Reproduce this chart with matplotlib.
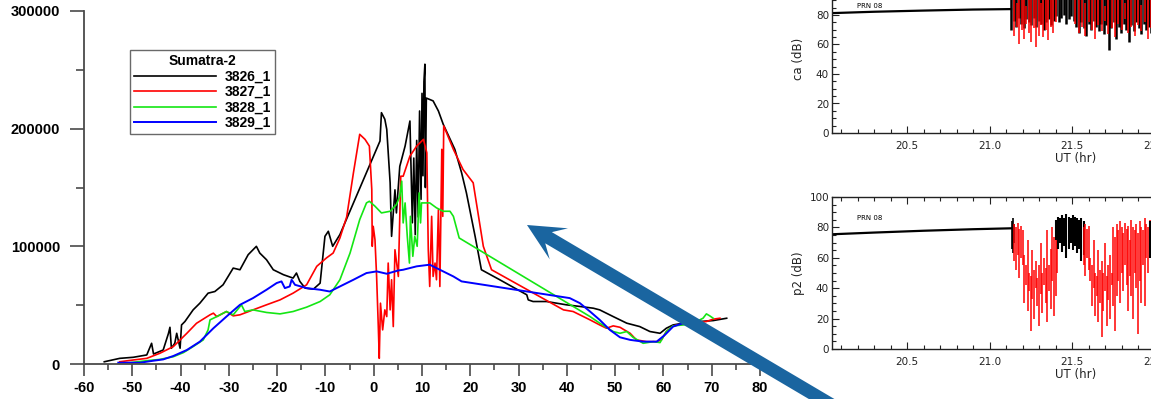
import numpy as np
import matplotlib
matplotlib.use("Agg")
import matplotlib.pyplot as plt
from matplotlib.patches import Polygon
from matplotlib.ticker import MultipleLocator, FormatStrFormatter

plt.rcParams["axes.unicode_minus"] = False

# ---- main chart: Sumatra-2 passes (x: distance, y: counts) ----
BLACK_X = [-55.8, -52.6, -49.8, -47.0, -46.0, -45.6, -43.6, -42.5, -42.2, -41.9,
           -41.2, -40.8, -40.1, -39.8, -39.1, -37.4, -36.0, -34.3, -32.9, -31.2,
           -29.1, -27.7, -26.0, -24.3, -23.6, -22.2, -20.8, -18.7, -16.7, -16.0,
           -15.3, -14.2, -12.5, -11.1, -10.1, -9.4, -8.5, -7.0, 1.3, 1.6,
           2.3, 2.7, 3.4, 3.7, 4.4, 4.7, 5.4, 6.5, 7.5, 8.0,
           8.3, 8.6, 8.9, 9.2, 9.5, 9.8, 10.0, 10.2, 10.4, 10.6,
           10.7, 10.9, 12.3, 13.4, 14.4, 16.8, 18.2, 19.2, 21.0, 22.3,
           26.1, 31.7, 32.0, 33.0, 35.8, 39.9, 42.7, 45.5, 46.8, 49.6,
           52.4, 55.1, 57.2, 59.3, 60.6, 62.0, 64.8, 67.5, 70.3, 73.1]
BLACK_Y = [1900, 4800, 5700, 7700, 17600, 8500, 11900, 26100, 31200, 13400,
           17600, 26100, 13400, 33200, 36100, 46000, 51700, 60200, 61600, 67300,
           81500, 80100, 92900, 100000, 94300, 88600, 80100, 75900, 73000, 77300,
           70200, 64500, 63600, 68700, 108500, 112800, 100000, 110000, 189500, 213600,
           208000, 199400, 154000, 108500, 148000, 128400, 168000, 185200, 206500, 120000,
           175000, 110000, 190000, 125000, 215000, 140000, 230000, 160000, 240000, 254800,
           150000, 226000, 223600, 215000, 203700, 182400, 162500, 145400, 108500, 80100,
           71600, 58800, 54500, 53100, 53100, 50300, 48900, 47400, 46000, 40300,
           34700, 31800, 27600, 26100, 30400, 33200, 35200, 36100, 36900, 38900]

RED_X = [-52.6, -49.8, -47.0, -44.3, -41.5, -38.7, -36.7, -33.9, -33.2, -32.5,
         -30.5, -29.1, -27.7, -25.0, -22.2, -19.4, -16.7, -13.9, -11.8, -9.8,
         -8.4, -7.0, -5.6, -4.2, -2.9, -1.8, -0.9, -0.4, -0.3, -0.1,
         0.26, 0.6, 0.95, 1.15, 1.4, 1.85, 2.3, 2.7, 3.0, 3.4,
         3.7, 4.05, 4.4, 5.1, 5.6, 6.1, 7.5, 8.9, 10.3, 11.0,
         11.3, 11.6, 12.0, 12.3, 12.7, 13.0, 13.4, 13.7, 14.1, 14.3,
         14.5, 16.5, 18.5, 20.6, 22.7, 24.4, 39.3, 41.3, 44.8, 46.8,
         48.2, 49.6, 51.0, 53.1, 54.4, 56.5, 58.6, 59.6, 60.6, 62.0,
         64.8, 66.9, 68.9, 70.3, 71.7]
RED_Y = [1900, 3400, 4800, 9100, 14800, 26100, 34600, 41800, 43200, 40300,
         44600, 40900, 41800, 46000, 50300, 54500, 60200, 67300, 83000, 90100,
         94300, 107100, 125000, 162500, 195200, 190900, 185200, 148300, 100000, 117000,
         105700, 74400, 31800, 4800, 51700, 29000, 46000, 40300, 85800, 46000,
         71600, 31800, 97100, 74400, 159600, 159600, 176700, 185200, 190900, 179500,
         97100, 65900, 125500, 74400, 85800, 71600, 131200, 65900, 182400, 125500,
         202300, 182400, 165300, 154000, 100000, 80100, 46000, 44600, 37500, 33200,
         30400, 32400, 31200, 26100, 20500, 19000, 19000, 20500, 27600, 32400,
         34700, 35200, 36100, 38100, 38900]

GREEN_X = [-50.5, -47.0, -44.3, -41.5, -39.4, -37.4, -35.3, -34.3, -33.9, -32.5,
           -30.5, -29.1, -27.4, -26.7, -25.0, -22.2, -19.4, -16.7, -13.9, -11.1,
           -9.1, -7.0, -4.9, -2.9, -1.5, -0.9, 0.26, 1.6, 3.4, 4.7,
           5.4, 5.8, 6.1, 6.5, 6.95, 7.4, 7.6, 8.1, 8.5, 9.0,
           9.4, 9.7, 9.9, 11.6, 13.0, 14.4, 15.8, 16.5, 17.7, 44.8,
           46.8, 49.6, 51.0, 52.4, 53.7, 55.8, 57.9, 59.3, 60.6, 62.0,
           64.1, 66.2, 68.2, 68.9, 69.6, 70.3]
GREEN_Y = [1100, 2800, 3900, 6200, 9700, 14800, 20500, 29000, 37500, 40300,
           44600, 41800, 50300, 44600, 46000, 43800, 42600, 44600, 48300, 53100,
           58800, 71600, 94300, 122700, 136900, 138300, 134100, 128400, 129800, 135500,
           142600, 155400, 119900, 136900, 108500, 85800, 125500, 91500, 108500, 100000,
           145400, 119900, 136900, 136900, 132700, 129800, 129800, 125500, 107100, 40300,
           34700, 27600, 26100, 27600, 22700, 17600, 19000, 18200, 27600, 32400,
           33200, 34700, 38900, 42600, 40900, 38900]

BLUE_X = [-52.9, -48.4, -45.6, -43.6, -41.5, -38.7, -36.0, -33.2, -30.5, -27.7,
          -25.0, -22.2, -20.1, -19.1, -18.4, -17.4, -17.0, -16.3, -13.9, -11.1,
          -9.1, -7.0, -4.2, -1.5, 0.6, 2.7, 5.1, 6.1, 8.9, 11.6,
          13.7, 16.5, 18.2, 40.6, 42.7, 44.8, 46.8, 48.9, 51.0, 53.1,
          55.8, 58.6, 60.3, 62.0, 64.1, 66.2]
BLUE_Y = [1100, 1100, 2800, 3900, 6800, 11900, 19000, 30400, 40300, 50300,
          56000, 63100, 68800, 70200, 64500, 65900, 71600, 67300, 64500, 63100,
          61600, 65900, 71600, 77300, 78700, 76700, 79500, 80100, 83000, 84400,
          80100, 74400, 70200, 56000, 51700, 44600, 37500, 29000, 22700, 20500,
          19000, 19000, 24700, 31800, 34700, 35500]

SERIES_NAMES = ["3826_1", "3827_1", "3828_1", "3829_1"]
LEGEND_TITLE = "Sumatra-2"

# ---- right panels: PRN 08 signal (UT hours, dB) ----
CA_QUIET_T = [20.05, 20.3, 20.6, 20.9, 21.13]
CA_QUIET_V = [81.3, 82.2, 83.0, 83.7, 84.0]
CA_BAND_T = (21.13, 21.98)
CA_BAND_LO = [70, 76, 72, 78, 74, 71, 77, 75, 73, 78, 72, 76, 74, 70, 75, 77, 73, 76, 79,
              75, 78, 80, 74, 77, 79, 76, 72, 68, 75, 71, 66, 74, 70, 76, 72, 69, 74, 67,
              73, 56, 71, 75, 64, 72, 68, 74, 70, 62, 73, 69, 75, 71, 67, 74, 70, 72, 68]
CA_BAND_TOP = 100
CA_RED1_T = (21.15, 21.40)
CA_RED1_LO = [66, 72, 60, 70, 64, 74, 68, 62, 71, 58, 66, 73, 65, 70, 63, 72, 68, 75]
CA_RED1_HI = [95, 88, 100, 92, 98, 86, 100, 94, 90, 100, 96, 88, 100, 92, 97, 90, 100, 94]
CA_RED2_T = (21.52, 21.98)
CA_RED2_LO = [74, 68, 72, 66, 75, 70, 64, 73, 69, 76, 67, 71, 65, 74, 70, 77, 68, 72,
              66, 73, 69, 75, 64, 71]
CA_RED2_HI = [100, 92, 98, 88, 100, 95, 90, 100, 94, 86, 100, 92, 97, 90, 100, 88, 96,
              100, 91, 98, 87, 100, 94, 96]

P2_QUIET_T = [20.05, 20.3, 20.6, 20.9, 21.13]
P2_QUIET_V = [75.5, 76.6, 77.8, 78.8, 79.4]
P2_JUMP_T = [21.135, 21.14, 21.145]
P2_JUMP_LO = [66, 63, 70]
P2_JUMP_HI = [84, 86, 82]
P2_RED1_T = (21.15, 21.41)
P2_RED1_LO = [58, 52, 62, 47, 60, 55, 30, 42, 25, 38, 12, 33, 20, 40, 28, 15, 36, 24,
              42, 30, 18, 38, 26, 45, 22, 35, 50]
P2_RED1_HI = [82, 80, 83, 79, 81, 78, 62, 55, 72, 50, 48, 65, 52, 58, 47, 55, 70, 50,
              60, 53, 78, 55, 66, 80, 74, 82, 80]
P2_BLACK_T = (21.40, 21.57)
P2_BLACK_LO = [72, 66, 70, 64, 68, 60, 66, 70, 65, 68, 63, 66, 58, 62]
P2_BLACK_HI = [85, 87, 86, 88, 86, 89, 87, 86, 88, 87, 86, 85, 86, 84]
P2_RED2_T = (21.57, 21.97)
P2_RED2_LO = [55, 48, 60, 52, 45, 28, 40, 22, 35, 18, 30, 8, 25, 38, 15, 32, 20, 42, 28,
              12, 35, 45, 30, 50, 38, 55, 42, 25, 48, 35, 20, 50, 40, 10, 45, 30, 55, 28,
              60, 50, 62]
P2_RED2_HI = [80, 82, 79, 81, 60, 55, 72, 50, 48, 65, 52, 58, 50, 70, 48, 55, 62, 50, 80,
              74, 82, 78, 84, 80, 76, 83, 79, 81, 72, 85, 80, 78, 82, 76, 84, 80, 78, 86,
              82, 80, 85]
P2_TAIL_T = [21.975, 21.985, 21.995]
P2_TAIL_LO = [60, 58, 62]
P2_TAIL_HI = [84, 82, 85]

W, H = 1151, 399
PT = 0.72  # points per pixel at dpi 100
fig = plt.figure(figsize=(W / 100, H / 100), dpi=100)
fig.patch.set_facecolor("white")

BOLD = {"family": "Liberation Sans", "weight": "bold", "size": 10.5}
AXIS_GREY = "#4a4a4a"

# ---------------- main chart ----------------
ax = fig.add_axes([84 / W, 35 / H, 676 / W, 353 / H])
ax.plot(BLACK_X, BLACK_Y, color="black", lw=1.2, label=SERIES_NAMES[0])
ax.plot(RED_X, RED_Y, color="#ff0000", lw=1.2, label=SERIES_NAMES[1])
ax.plot(GREEN_X, GREEN_Y, color="#14e614", lw=1.2, label=SERIES_NAMES[2])
ax.plot(BLUE_X, BLUE_Y, color="#0000ff", lw=1.4, label=SERIES_NAMES[3])
ax.set_xlim(-60, 80)
ax.set_ylim(0, 300000)
ax.spines["top"].set_visible(False)
ax.spines["right"].set_visible(False)
for s in ("left", "bottom"):
    ax.spines[s].set_linewidth(1.3)
    ax.spines[s].set_color(AXIS_GREY)
ax.xaxis.set_major_locator(MultipleLocator(10))
ax.xaxis.set_minor_locator(MultipleLocator(5))
ax.yaxis.set_major_locator(MultipleLocator(100000))
ax.yaxis.set_minor_locator(MultipleLocator(50000))
ax.tick_params(which="both", width=1.2, color=AXIS_GREY)
ax.tick_params(axis="y", which="major", length=14 * PT, pad=10 * PT)
ax.tick_params(axis="y", which="minor", length=8 * PT)
ax.tick_params(axis="x", which="major", length=12 * PT, pad=5 * PT)
ax.tick_params(axis="x", which="minor", length=6 * PT)
for lab in ax.get_xticklabels() + ax.get_yticklabels():
    lab.set_fontproperties(BOLD)

leg = ax.legend(loc="upper left", bbox_to_anchor=(0.068, 0.889), frameon=True,
                fancybox=False, handlelength=5.9, handletextpad=0.6,
                labelspacing=0.1, borderpad=0.3, borderaxespad=0,
                prop={"family": "Liberation Sans", "weight": "bold", "size": 10},
                title=LEGEND_TITLE,
                title_fontproperties={"family": "Liberation Sans", "weight": "bold", "size": 10})
leg.get_frame().set_edgecolor("#444444")
leg.get_frame().set_linewidth(1.0)

# ---------------- right panels ----------------
SMALL = {"family": "DejaVu Sans", "size": 8.5}


def style_panel(a, ylabel):
    a.set_xlim(20.045, 23.0)
    a.set_ylim(0, 100)
    a.xaxis.set_major_locator(MultipleLocator(0.5))
    a.xaxis.set_minor_locator(MultipleLocator(0.1))
    a.xaxis.set_major_formatter(FormatStrFormatter("%.1f"))
    a.yaxis.set_major_locator(MultipleLocator(20))
    a.yaxis.set_minor_locator(MultipleLocator(5))
    a.tick_params(which="both", direction="in", top=True, right=True, width=0.8,
                  colors="#222222", labelsize=7.5)
    a.tick_params(which="major", length=7 * PT)
    a.tick_params(axis="x", which="major", pad=8 * PT)
    a.tick_params(axis="y", which="major", pad=3 * PT)
    a.tick_params(which="minor", length=4 * PT)
    for s in a.spines.values():
        s.set_linewidth(1.0)
        s.set_color("#222222")
    a.set_ylabel(ylabel, fontdict=SMALL, color="#222222", labelpad=3)
    a.set_xlabel("UT (hr)", fontdict=SMALL, color="#222222", labelpad=1)
    a.text(0.051, 0.86, "PRN 08", transform=a.transAxes, fontsize=5,
           family="DejaVu Sans", color="black", va="center")


def band(a, t_range, lo, hi, color, lw):
    t = np.linspace(t_range[0], t_range[1], len(lo))
    a.vlines(t, lo, hi, color=color, lw=lw)


PANEL_W = (23.0 - 20.045) * 165

ax_ca = fig.add_axes([832 / W, (H - 133) / H, PANEL_W / W, 147.5 / H])
style_panel(ax_ca, "ca (dB)")
ax_ca.plot(CA_QUIET_T, CA_QUIET_V, color="black", lw=1.6)
band(ax_ca, CA_BAND_T, CA_BAND_LO, [CA_BAND_TOP] * len(CA_BAND_LO), "black", 1.8)
band(ax_ca, CA_RED1_T, CA_RED1_LO, CA_RED1_HI, "#ff0000", 1.1)
band(ax_ca, CA_RED2_T, CA_RED2_LO, CA_RED2_HI, "#ff0000", 1.1)

ax_p2 = fig.add_axes([832 / W, 50 / H, PANEL_W / W, 152 / H])
style_panel(ax_p2, "p2 (dB)")
ax_p2.plot(P2_QUIET_T, P2_QUIET_V, color="black", lw=1.6)
ax_p2.vlines(P2_JUMP_T, P2_JUMP_LO, P2_JUMP_HI, color="black", lw=1.2)
band(ax_p2, P2_RED1_T, P2_RED1_LO, P2_RED1_HI, "#ff0000", 1.1)
band(ax_p2, P2_BLACK_T, P2_BLACK_LO, P2_BLACK_HI, "black", 1.5)
band(ax_p2, P2_RED2_T, P2_RED2_LO, P2_RED2_HI, "#ff0000", 1.1)
ax_p2.vlines(P2_TAIL_T, P2_TAIL_LO, P2_TAIL_HI, color="black", lw=1.5)

# ---------------- big pointer arrow (pixel geometry) ----------------
tip = np.array([527.0, 225.0])
u = np.array([298.0, 176.0])
u = u / np.hypot(*u)
n = np.array([-u[1], u[0]])
shape = [(0, 0), (37, -18), (25, -6.5), (400, -6.5), (400, 6.5), (25, 6.5), (37, 18)]
pts = [tip + s * u + p * n for s, p in shape]
pts = [(px / W, 1 - py / H) for px, py in pts]
fig.add_artist(Polygon(pts, closed=True, transform=fig.transFigure,
                       facecolor="#1a65a0", edgecolor="none", zorder=20))

fig.savefig("out.png", dpi=100, facecolor="white")
